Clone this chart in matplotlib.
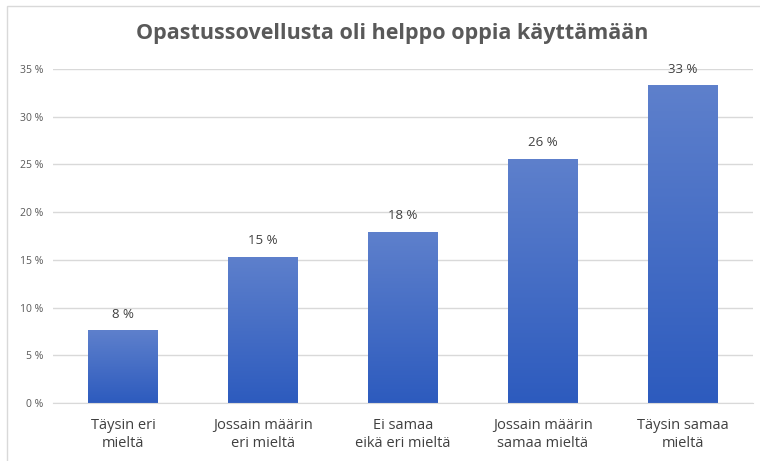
import numpy as np
import matplotlib
matplotlib.use("Agg")
import matplotlib.pyplot as plt
from matplotlib.colors import LinearSegmentedColormap
from matplotlib.patches import Rectangle

# chart data
title = "Opastussovellusta oli helppo oppia käyttämään"
categories = ["Täysin eri\nmieltä", "Jossain määrin\neri mieltä", "Ei samaa\neikä eri mieltä",
              "Jossain määrin\nsamaa mieltä", "Täysin samaa\nmieltä"]
values = [7.6, 15.3, 17.9, 25.6, 33.3]
value_labels = ["8 %", "15 %", "18 %", "26 %", "33 %"]
yticks = [0, 5, 10, 15, 20, 25, 30, 35]

plt.rcParams['font.family'] = ['Open Sans', 'DejaVu Sans']

W, H = 760, 461
fig = plt.figure(figsize=(W / 100, H / 100), dpi=100)
ax = fig.add_axes([53 / W, 1 - 403 / H, 700 / W, (403 - 69) / H])

x = np.arange(len(categories))
bars = ax.bar(x, values, width=0.5, color="none", edgecolor="none", zorder=2)

# vertical gradient fill, lighter at the top
cmap = LinearSegmentedColormap.from_list("grad", ["#2D5BBE", "#5E80CC"])
grad = np.linspace(0, 1, 256).reshape(-1, 1)
for b in bars:
    x0, y0 = b.get_x(), b.get_y()
    im = ax.imshow(grad, cmap=cmap, aspect="auto", origin="lower",
                   extent=[x0, x0 + b.get_width(), y0, y0 + b.get_height()], zorder=2)
    im.set_clip_path(b)

for xi, v, lab in zip(x, values, value_labels):
    ax.annotate(lab, (xi, v), xytext=(0, 7), textcoords="offset points",
                ha="center", va="bottom", fontsize=9.5, color="#404040")

ax.set_xlim(-0.5, len(categories) - 0.5)
ax.set_ylim(0, 35)
ax.set_yticks(yticks)
ax.set_yticklabels([f"{t} %" for t in yticks])
ax.set_xticks(x)
ax.set_xticklabels(categories, fontsize=10.5, color="#404040", linespacing=1.25)
ax.tick_params(axis="y", length=0, pad=7, labelsize=7.5, labelcolor="#595959")
ax.tick_params(axis="x", length=0, pad=11)
ax.grid(axis="y", color="#D9D9D9", linewidth=1)
ax.set_axisbelow(True)
for s in ["top", "right", "left"]:
    ax.spines[s].set_visible(False)
ax.spines["bottom"].set_color("#D9D9D9")

fig.text(392 / W, 1 - 34 / H, title, ha="center", va="center",
         fontsize=15.5, fontweight="bold", color="#595959")

# chart frame
fig.patches.append(Rectangle((7 / W, -0.1), 1.2, 1 - 6 / H + 0.1, transform=fig.transFigure,
                             fill=False, edgecolor="#D9D9D9", linewidth=1))

fig.savefig("out.png", dpi=100)
